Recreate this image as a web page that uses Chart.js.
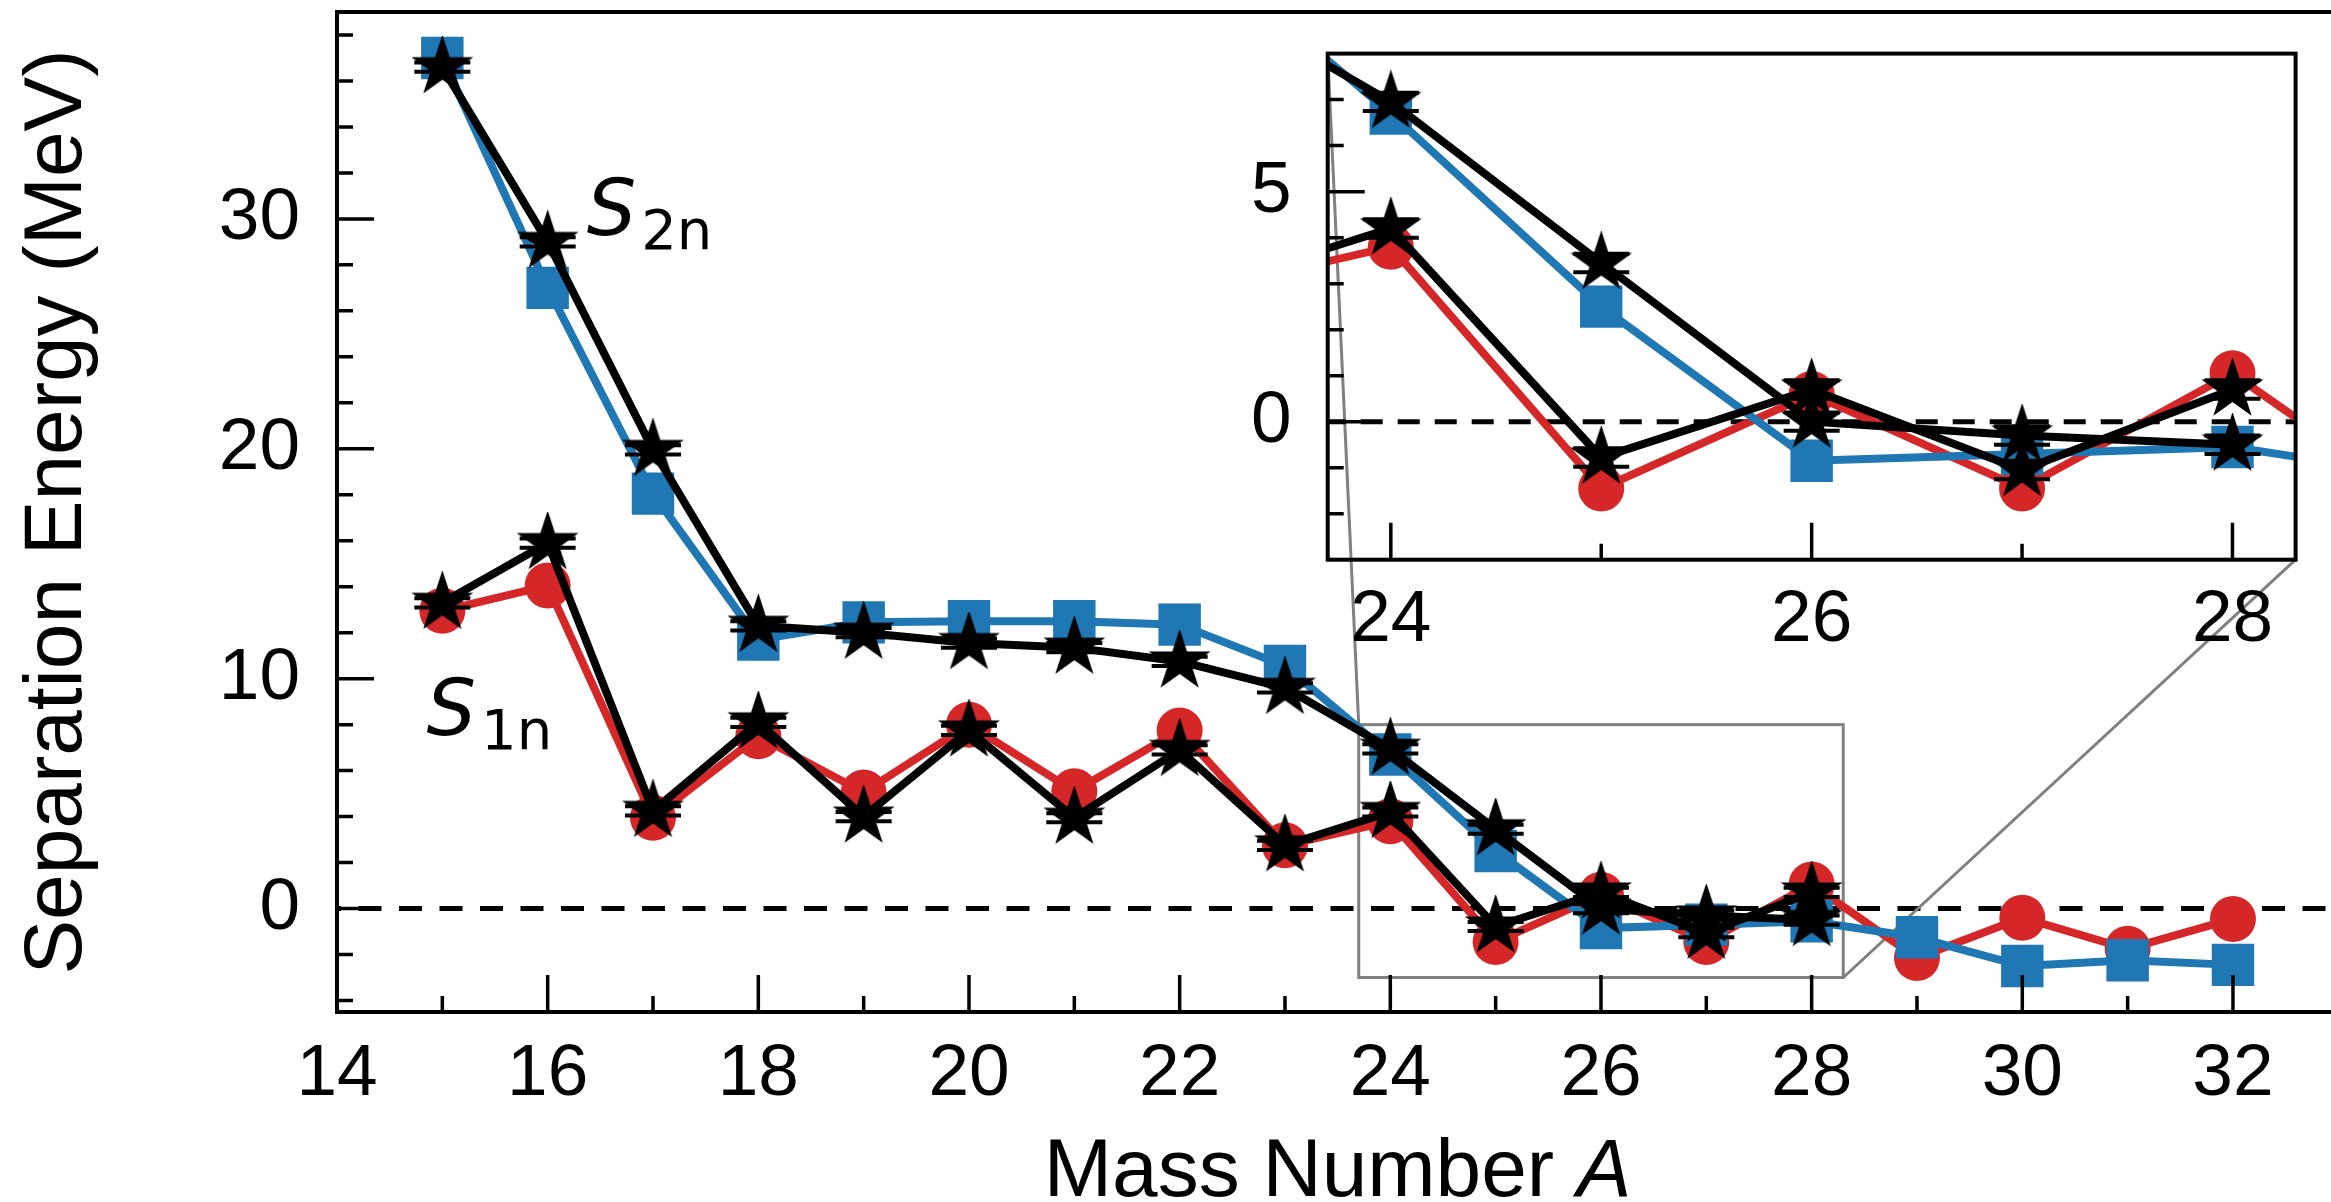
<!DOCTYPE html>
<html lang="en">
<head>
<meta charset="utf-8">
<title>Separation energies</title>
<script src="https://cdn.jsdelivr.net/npm/chart.js@4.4.1/dist/chart.umd.min.js"></script>
<style>
  html, body { margin: 0; padding: 0; background: #ffffff; overflow: hidden; }
  #stage { position: relative; width: 2331px; height: 1202px; overflow: hidden; background: #fff; }
  #mainChart { position: absolute; left: 0; top: 0; }
  #insetChart { position: absolute; left: 1200px; top: 20px; }
</style>
</head>
<body>
<div id="stage">
  <canvas id="mainChart" width="2345" height="1230"></canvas>
  <canvas id="insetChart" width="1120" height="660"></canvas>
</div>
<script>
// measured values (blue squares = S2n, red circles = S1n)
const massNumbers = [15, 16, 17, 18, 19, 20, 21, 22, 23, 24, 25, 26, 27, 28, 29, 30, 31, 32];
const s2nMeasured = [37.0, 27.0, 18.05, 11.7, 12.45, 12.5, 12.5, 12.35, 10.55, 6.7, 2.5, -0.85, -0.7, -0.55, -1.25, -2.5, -2.25, -2.45];
const s1nMeasured = [12.95, 14.05, 3.95, 7.5, 5.05, 8.0, 5.1, 7.75, 2.75, 3.8, -1.45, 0.6, -1.45, 1.05, -2.15, -0.4, -1.75, -0.45];

// calculated values (black stars) with small error bars
const calcMass = [15, 16, 17, 18, 19, 20, 21, 22, 23, 24, 25, 26, 27, 28];
const s2nCalc = [36.6, 29.0, 19.95, 12.3, 12.0, 11.55, 11.35, 10.75, 9.6, 6.95, 3.45, 0.0, -0.3, -0.5];
const s1nCalc = [13.3, 15.9, 4.25, 8.1, 4.0, 7.75, 3.95, 6.9, 2.75, 4.2, -0.78, 0.7, -1.05, 0.7];
const s2nCalcErr = [0.2, 0.2, 0.2, 0.2, 0.2, 0.2, 0.2, 0.2, 0.2, 0.2, 0.2, 0.2, 0.2, 0.2];
const s1nCalcErr = [0.2, 0.2, 0.2, 0.2, 0.2, 0.2, 0.2, 0.2, 0.2, 0.2, 0.2, 0.2, 0.2, 0.2];

// tick labels
const xTickLabels = [14, 16, 18, 20, 22, 24, 26, 28, 30, 32];
const yTickLabels = [0, 10, 20, 30];
const insetXTickLabels = [24, 26, 28];
const insetYTickLabels = [0, 5];

// axis ranges
const mainX = [14, 33];
const mainY = [-4.5, 39];
const zoomX = [23.7, 28.3];
const zoomY = [-3, 8];

const BLUE = '#1f77b4';
const RED = '#d62728';
const SANS = '"Liberation Sans", Arial, Helvetica, sans-serif';
const TICK_FONT = { family: SANS, size: 73, lineHeight: 1 };

function range(a, b, step) {
  const out = [];
  for (let v = a; v <= b + 1e-9; v += step) out.push(Math.round(v * 1000) / 1000);
  return out;
}

function points(xs, ys) {
  return xs.map((x, i) => ({ x: x, y: ys[i] }));
}

// filled five-pointed star like matplotlib '*'
function makeStar(outer) {
  const size = Math.ceil(outer * 2 + 6);
  const c = document.createElement('canvas');
  c.width = size; c.height = size;
  const g = c.getContext('2d');
  const cx = size / 2, cy = size / 2, inner = outer * 0.381966;
  g.beginPath();
  for (let i = 0; i < 10; i++) {
    const r = i % 2 === 0 ? outer : inner;
    const ang = -Math.PI / 2 + i * Math.PI / 5;
    g.lineTo(cx + r * Math.cos(ang), cy + r * Math.sin(ang));
  }
  g.closePath();
  g.fillStyle = '#000';
  g.fill();
  g.lineWidth = 2.5;
  g.strokeStyle = '#000';
  g.lineJoin = 'miter';
  g.stroke();
  return c;
}
const starImg = makeStar(28.5);

function buildDatasets() {
  return [
    { label: 'S1n calc', data: points(calcMass, s1nCalc), errors: s1nCalcErr,
      borderColor: '#000', pointStyle: starImg, pointRadius: 29 },
    { label: 'S2n calc', data: points(calcMass, s2nCalc), errors: s2nCalcErr,
      borderColor: '#000', pointStyle: starImg, pointRadius: 29 },
    { label: 'S2n', data: points(massNumbers, s2nMeasured),
      borderColor: BLUE, pointBackgroundColor: BLUE, pointStyle: 'rect', pointRadius: 30 },
    { label: 'S1n', data: points(massNumbers, s1nMeasured),
      borderColor: RED, pointBackgroundColor: RED, pointStyle: 'circle', pointRadius: 23 }
  ].map(d => Object.assign({ showLine: true, borderWidth: 8, pointBorderWidth: 0, clip: 0, tension: 0 }, d));
}

function axis(o) {
  return {
    type: 'linear',
    position: o.position,
    min: o.min,
    max: o.max,
    grid: { display: false, drawTicks: false },
    border: { display: false },
    afterBuildTicks: s => { s.ticks = o.values.map(v => ({ value: v })); },
    afterFit: s => {
      if (o.width != null) s.width = o.width;
      if (o.height != null) s.height = o.height;
      s.paddingLeft = 0; s.paddingRight = 0; s.paddingTop = 0; s.paddingBottom = 0;
    },
    ticks: {
      autoSkip: false, maxRotation: 0, minRotation: 0,
      padding: o.padding, color: '#000', font: TICK_FONT,
      callback: v => (o.labels.includes(v) ? String(v) : '')
    },
    title: o.title || { display: false }
  };
}

// inward tick marks, longer on labelled ticks
function drawTicks(chart, xLabels, yLabels) {
  const { ctx, chartArea: a, scales: { x, y } } = chart;
  ctx.save();
  ctx.strokeStyle = '#000';
  ctx.lineWidth = 3.5;
  ctx.beginPath();
  x.ticks.forEach(t => {
    const px = x.getPixelForValue(t.value);
    const len = xLabels.includes(t.value) ? 37 : 16;
    ctx.moveTo(px, a.bottom); ctx.lineTo(px, a.bottom - len);
  });
  y.ticks.forEach(t => {
    const py = y.getPixelForValue(t.value);
    const len = yLabels.includes(t.value) ? 37 : 16;
    ctx.moveTo(a.left, py); ctx.lineTo(a.left + len, py);
  });
  ctx.stroke();
  ctx.lineWidth = 4;
  ctx.strokeRect(a.left, a.top, a.right - a.left, a.bottom - a.top);
  ctx.restore();
}

function drawZeroLine(chart, dash, offset) {
  const { ctx, chartArea: a, scales: { y } } = chart;
  const y0 = y.getPixelForValue(0);
  ctx.save();
  ctx.strokeStyle = '#000';
  ctx.lineWidth = 5;
  ctx.setLineDash(dash);
  ctx.lineDashOffset = offset;
  ctx.beginPath();
  ctx.moveTo(a.left, y0); ctx.lineTo(a.right, y0);
  ctx.stroke();
  ctx.restore();
}

function drawCaps(chart) {
  const { ctx, chartArea: a, scales: { y } } = chart;
  ctx.save();
  ctx.beginPath();
  ctx.rect(a.left, a.top, a.right - a.left, a.bottom - a.top);
  ctx.clip();
  ctx.strokeStyle = '#000';
  ctx.lineWidth = 4;
  chart.data.datasets.forEach((ds, i) => {
    if (!ds.errors) return;
    chart.getDatasetMeta(i).data.forEach((pt, j) => {
      const v = ds.data[j].y, e = ds.errors[j];
      [v - e, v + e].forEach(val => {
        const py = y.getPixelForValue(val);
        ctx.beginPath();
        ctx.moveTo(pt.x - 28, py); ctx.lineTo(pt.x + 28, py);
        ctx.stroke();
      });
    });
  });
  ctx.restore();
}

function drawSLabel(ctx, px, py, sub) {
  ctx.save();
  ctx.fillStyle = '#000';
  ctx.textBaseline = 'alphabetic';
  ctx.textAlign = 'left';
  ctx.font = 'italic 78px "DejaVu Sans"';
  ctx.fillText('S', px, py);
  const w = ctx.measureText('S').width;
  ctx.font = '56px "DejaVu Sans"';
  ctx.fillText(sub, px + w + 5, py + 14);
  ctx.restore();
}

// ---------- inset ----------
const insetOffset = { left: 1200, top: 20 };

const insetDecor = {
  id: 'insetDecor',
  beforeDatasetsDraw(chart) { drawZeroLine(chart, [22, 15], 4); },
  afterDatasetsDraw(chart) {
    drawCaps(chart);
    drawTicks(chart, insetXTickLabels, insetYTickLabels);
  }
};

const insetChart = new Chart(document.getElementById('insetChart').getContext('2d'), {
  type: 'scatter',
  data: { datasets: buildDatasets() },
  options: {
    responsive: false,
    animation: false,
    events: [],
    layout: { autoPadding: false, padding: { top: 33.6, right: 24.4, left: 0, bottom: 0 } },
    plugins: { legend: { display: false }, tooltip: { enabled: false } },
    scales: {
      x: axis({ position: 'bottom', min: zoomX[0], max: zoomX[1], values: [24, 25, 26, 27, 28],
        labels: insetXTickLabels, padding: 25, height: 120.3 }),
      y: axis({ position: 'left', min: zoomY[0], max: zoomY[1], values: range(-2, 7, 1),
        labels: insetYTickLabels, padding: 36, width: 127.7 })
    }
  },
  plugins: [insetDecor]
});

// ---------- main ----------
const mainDecor = {
  id: 'mainDecor',
  beforeDatasetsDraw(chart) {
    const { ctx, scales: { x, y } } = chart;
    drawZeroLine(chart, [23, 17.5], 19);
    // zoom rectangle and connectors to the inset corners
    const bl = x.getPixelForValue(zoomX[0]), br = x.getPixelForValue(zoomX[1]);
    const bt = y.getPixelForValue(zoomY[1]), bb = y.getPixelForValue(zoomY[0]);
    const ia = insetChart.chartArea;
    ctx.save();
    ctx.strokeStyle = '#808080';
    ctx.lineWidth = 3;
    ctx.strokeRect(bl, bt, br - bl, bb - bt);
    ctx.beginPath();
    ctx.moveTo(bl, bt);
    ctx.lineTo(insetOffset.left + ia.left, insetOffset.top + ia.top);
    ctx.moveTo(br, bb);
    ctx.lineTo(insetOffset.left + ia.right, insetOffset.top + ia.bottom);
    ctx.stroke();
    ctx.restore();
  },
  afterDatasetsDraw(chart) {
    const { ctx, chartArea: a, scales: { x, y } } = chart;
    drawCaps(chart);
    drawTicks(chart, xTickLabels, yTickLabels);
    drawSLabel(ctx, x.getPixelForValue(16.37), y.getPixelForValue(29.3), '2n');
    drawSLabel(ctx, x.getPixelForValue(14.85), y.getPixelForValue(7.57), '1n');
    // x-axis title with italic A
    ctx.save();
    ctx.fillStyle = '#000';
    ctx.textBaseline = 'alphabetic';
    ctx.textAlign = 'left';
    ctx.font = '82px ' + SANS;
    const t1 = 'Mass Number ';
    const w1 = ctx.measureText(t1).width;
    ctx.font = 'italic 82px ' + SANS;
    const w2 = ctx.measureText('A').width;
    const cx = (a.left + a.right) / 2;
    const x0 = cx - (w1 + w2) / 2;
    ctx.font = '82px ' + SANS;
    ctx.fillText(t1, x0, 1196);
    ctx.font = 'italic 82px ' + SANS;
    ctx.fillText('A', x0 + w1, 1196);
    ctx.restore();
  }
};

new Chart(document.getElementById('mainChart').getContext('2d'), {
  type: 'scatter',
  data: { datasets: buildDatasets() },
  options: {
    responsive: false,
    animation: false,
    events: [],
    layout: { autoPadding: false, padding: { top: 12, right: 6.7, left: 0, bottom: 0 } },
    plugins: { legend: { display: false }, tooltip: { enabled: false } },
    scales: {
      x: axis({ position: 'bottom', min: mainX[0], max: mainX[1], values: range(14, 32, 1),
        labels: xTickLabels, padding: 26, height: 218 }),
      y: axis({ position: 'left', min: mainY[0], max: mainY[1], values: range(-4, 38, 2),
        labels: yTickLabels, padding: 37, width: 337,
        title: { display: true, text: 'Separation Energy (MeV)', color: '#000',
          font: { family: SANS, size: 82, lineHeight: 1 }, padding: { top: 17, bottom: 0 } } })
    }
  },
  plugins: [mainDecor]
});
</script>
</body>
</html>
